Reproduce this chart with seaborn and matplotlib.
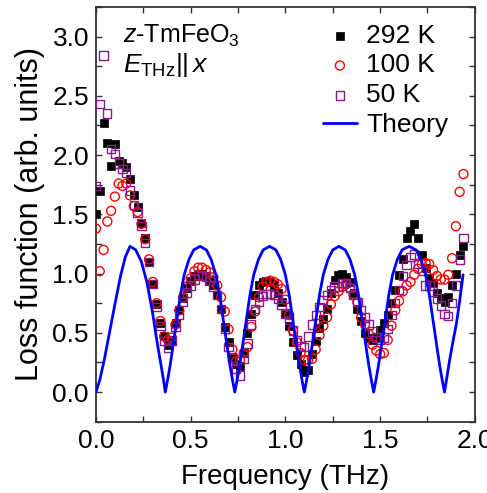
import numpy as np
import pandas as pd
import matplotlib
matplotlib.use('Agg')
import matplotlib.pyplot as plt
import seaborn as sns

# frequency grid of the measured points (THz)
freq = [0.00, 0.02, 0.04, 0.06, 0.08, 0.10, 0.12, 0.14, 0.16, 0.18,
        0.20, 0.22, 0.24, 0.26, 0.28, 0.30, 0.32, 0.34, 0.36, 0.38,
        0.40, 0.42, 0.44, 0.46, 0.48, 0.50, 0.52, 0.54, 0.56, 0.58,
        0.60, 0.62, 0.64, 0.66, 0.68, 0.70, 0.72, 0.74, 0.76, 0.78,
        0.80, 0.82, 0.84, 0.86, 0.88, 0.90, 0.92, 0.94, 0.96, 0.98,
        1.00, 1.02, 1.04, 1.06, 1.08, 1.10, 1.12, 1.14, 1.16, 1.18,
        1.20, 1.22, 1.24, 1.26, 1.28, 1.30, 1.32, 1.34, 1.36, 1.38,
        1.40, 1.42, 1.44, 1.46, 1.48, 1.50, 1.52, 1.54, 1.56, 1.58,
        1.60, 1.62, 1.64, 1.66, 1.68, 1.70, 1.72, 1.74, 1.76, 1.78,
        1.80, 1.82, 1.84, 1.86, 1.88, 1.90, 1.92, 1.94]

loss_292K = [1.50, 1.70, 2.27, 2.10, 1.91, 2.09, 1.95, 1.93, 1.90, 1.80,
             1.66, 1.56, 1.43, 1.30, 1.10, 0.91, 0.74, 0.58, 0.47, 0.40,
             0.44, 0.58, 0.69, 0.79, 0.88, 0.94, 0.98, 1.00, 1.00, 0.98,
             0.95, 0.90, 0.82, 0.70, 0.55, 0.42, 0.30, 0.24, 0.22, 0.33,
             0.50, 0.66, 0.82, 0.90, 0.93, 0.94, 0.93, 0.90, 0.84, 0.76,
             0.67, 0.56, 0.42, 0.31, 0.24, 0.17, 0.19, 0.32, 0.43, 0.54,
             0.62, 0.70, 0.84, 0.95, 0.99, 1.00, 0.97, 0.93, 0.84, 0.70,
             0.60, 0.50, 0.46, 0.44, 0.46, 0.52, 0.58, 0.65, 0.75, 0.86,
             0.99, 1.12, 1.30, 1.36, 1.42, 1.30, 1.16, 1.05, 0.96, 0.92,
             0.84, 0.79, 0.76, 0.80, 0.90, 1.00, 1.16, 1.23]

loss_100K = [1.38, 1.02, 1.20, 1.44, 1.53, 1.65, 1.76, 1.74, 1.76, 1.66,
             1.57, 1.52, 1.42, 1.29, 1.12, 0.93, 0.75, 0.60, 0.47, 0.44,
             0.46, 0.57, 0.69, 0.80, 0.89, 0.96, 1.02, 1.05, 1.05, 1.03,
             1.01, 0.97, 0.90, 0.80, 0.68, 0.53, 0.36, 0.26, 0.27, 0.33,
             0.38, 0.55, 0.68, 0.80, 0.89, 0.93, 0.94, 0.93, 0.91, 0.87,
             0.78, 0.65, 0.52, 0.42, 0.33, 0.27, 0.27, 0.28, 0.36, 0.48,
             0.56, 0.63, 0.74, 0.81, 0.85, 0.89, 0.91, 0.88, 0.82, 0.76,
             0.63, 0.57, 0.49, 0.40, 0.35, 0.32, 0.33, 0.44, 0.56, 0.69,
             0.77, 0.85, 0.90, 0.93, 0.99, 1.04, 1.08, 1.09, 1.08, 1.03,
             0.98, 0.95, 0.95, 0.99, 1.13, 1.40, 1.69, 1.84]

loss_50K = [1.74, 2.43, 2.84, 2.35, 2.05, 2.01, 1.93, 1.88, 1.85, 1.70,
            1.58, 1.51, 1.40, 1.26, 1.10, 0.91, 0.72, 0.56, 0.43, 0.37,
            0.43, 0.55, 0.65, 0.76, 0.84, 0.90, 0.95, 0.99, 0.98, 0.97,
            0.94, 0.89, 0.82, 0.70, 0.53, 0.38, 0.29, 0.20, 0.14, 0.28,
            0.41, 0.57, 0.70, 0.76, 0.81, 0.83, 0.83, 0.82, 0.79, 0.74,
            0.66, 0.61, 0.52, 0.44, 0.39, 0.38, 0.47, 0.57, 0.65, 0.72,
            0.78, 0.82, 0.86, 0.89, 0.89, 0.92, 0.92, 0.88, 0.82, 0.76,
            0.69, 0.63, 0.57, 0.51, 0.46, 0.44, 0.46, 0.53, 0.65, 0.75,
            0.86, 0.98, 1.07, 1.14, 1.16, 1.08, 1.02, 0.90, 0.90, 0.85,
            0.79, 0.73, 0.66, 0.64, 0.75, 0.90, 1.12, 1.30]

# theory curve
theory_freq = [0.000, 0.020, 0.045, 0.070, 0.100, 0.130, 0.155, 0.180, 0.210, 0.240,
               0.270, 0.300, 0.320, 0.340, 0.355, 0.366,
               0.378, 0.391, 0.406, 0.426, 0.446, 0.466, 0.491, 0.516, 0.550,
               0.583, 0.608, 0.633, 0.653, 0.673, 0.693, 0.708, 0.721, 0.733,
               0.745, 0.758, 0.773, 0.793, 0.813, 0.833, 0.858, 0.883, 0.917,
               0.950, 0.975, 1.000, 1.020, 1.040, 1.060, 1.075, 1.088, 1.100,
               1.112, 1.125, 1.140, 1.160, 1.180, 1.200, 1.225, 1.250, 1.283,
               1.316, 1.341, 1.366, 1.386, 1.406, 1.426, 1.441, 1.454, 1.466,
               1.478, 1.491, 1.506, 1.526, 1.546, 1.566, 1.591, 1.616, 1.653,
               1.690, 1.715, 1.740, 1.760, 1.780, 1.800, 1.815, 1.828, 1.840,
               1.852, 1.867, 1.885, 1.903, 1.920, 1.938]
theory_loss = [0.00, 0.10, 0.28, 0.49, 0.74, 0.98, 1.14, 1.23, 1.20, 1.10,
               0.92, 0.66, 0.45, 0.26, 0.12, 0.00,
               0.10, 0.22, 0.38, 0.60, 0.82, 0.99, 1.12, 1.20, 1.23,
               1.20, 1.12, 0.99, 0.82, 0.60, 0.38, 0.22, 0.10, 0.00,
               0.10, 0.22, 0.38, 0.60, 0.82, 0.99, 1.12, 1.20, 1.23,
               1.20, 1.12, 0.99, 0.82, 0.60, 0.38, 0.22, 0.10, 0.00,
               0.10, 0.22, 0.38, 0.60, 0.82, 0.99, 1.12, 1.20, 1.23,
               1.20, 1.12, 0.99, 0.82, 0.60, 0.38, 0.22, 0.10, 0.00,
               0.10, 0.22, 0.38, 0.60, 0.82, 0.99, 1.12, 1.20, 1.23,
               1.20, 1.12, 0.99, 0.82, 0.60, 0.38, 0.22, 0.10, 0.00,
               0.12, 0.27, 0.43, 0.58, 0.77, 0.99]

sns.set_style('ticks')
plt.rcParams['font.family'] = ['Liberation Sans', 'DejaVu Sans']
plt.rcParams['mathtext.fontset'] = 'custom'
plt.rcParams['mathtext.rm'] = 'Liberation Sans'
plt.rcParams['mathtext.it'] = 'Liberation Sans:italic'
plt.rcParams['text.color'] = 'black'
plt.rcParams['axes.labelcolor'] = 'black'
plt.rcParams['xtick.labelcolor'] = 'black'
plt.rcParams['ytick.labelcolor'] = 'black'

fig = plt.figure(figsize=(4.87, 4.93), dpi=100)
ax = fig.add_axes([0.197, 0.1446, 0.778, 0.8412])

df = pd.DataFrame({'freq': freq, '292 K': loss_292K, '100 K': loss_100K, '50 K': loss_50K})

sns.scatterplot(data=df, x='freq', y='292 K', ax=ax, marker='s', s=36,
                color='black', edgecolor='black', linewidth=0.5, label='292 K', zorder=3)
sns.scatterplot(data=df, x='freq', y='100 K', ax=ax, marker='o', s=42,
                facecolor='none', edgecolor='red', linewidth=1.0, label='100 K', zorder=4)
sns.scatterplot(data=df, x='freq', y='50 K', ax=ax, marker='s', s=36,
                facecolor='none', edgecolor='#8B1A8B', linewidth=1.0, label='50 K', zorder=5)
sns.lineplot(x=theory_freq, y=theory_loss, ax=ax, color='#0000FF', linewidth=2.0,
             label='Theory', zorder=6, sort=False)

ax.set_xlim(0, 2.0)
ax.set_ylim(-0.25, 3.25)
ax.set_xticks([0.0, 0.5, 1.0, 1.5, 2.0])
ax.set_yticks([0.0, 0.5, 1.0, 1.5, 2.0, 2.5, 3.0])
ax.set_xticks([0.25, 0.75, 1.25, 1.75], minor=True)
ax.set_yticks([-0.25, 0.25, 0.75, 1.25, 1.75, 2.25, 2.75, 3.25], minor=True)
ax.xaxis.set_major_formatter(matplotlib.ticker.FormatStrFormatter('%.1f'))
ax.yaxis.set_major_formatter(matplotlib.ticker.FormatStrFormatter('%.1f'))
ax.tick_params(which='both', direction='in', top=True, right=True, length=4,
               width=1.0, color='#333333', labelsize=19, pad=5, labelcolor='black')
for sp in ax.spines.values():
    sp.set_color('#333333')
    sp.set_linewidth(1.3)

ax.set_xlabel('Frequency (THz)', fontsize=20, labelpad=8)
ax.set_ylabel('Loss function (arb. units)', fontsize=22, labelpad=5)

ax.text(0.072, 0.913, r'$z$-TmFeO$_3$', transform=ax.transAxes, fontsize=18,
        ha='left', va='baseline')
ax.text(0.072, 0.844, r'$E_{\mathrm{THz}}||\,x$', transform=ax.transAxes, fontsize=19,
        ha='left', va='baseline')

ax.legend(loc='upper right', bbox_to_anchor=(0.972, 0.998), frameon=False,
          fontsize=19, handlelength=1.3, handletextpad=0.35, labelspacing=0.22,
          borderaxespad=0.2)

fig.savefig('out.png', dpi=100)
